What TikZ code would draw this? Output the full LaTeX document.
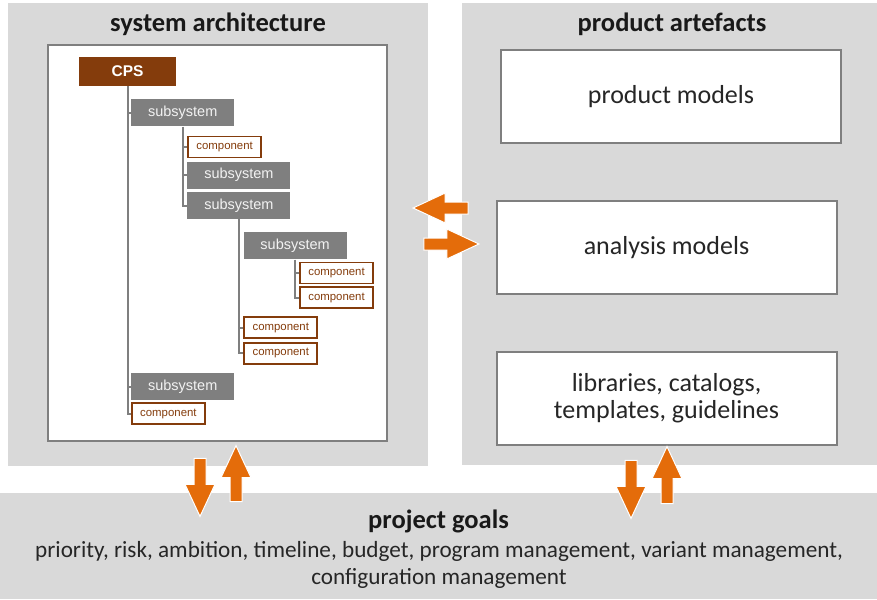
\documentclass[tikz,border=0pt]{standalone}
\usepackage{fontspec}
\setmainfont{Carlito}
\newfontfamily\arialfont{Liberation Sans}
\usetikzlibrary{positioning,shapes.arrows}

\definecolor{panelgrey}{HTML}{D9D9D9}
\definecolor{framegrey}{HTML}{7F7F7F}
\definecolor{cpsbrown}{HTML}{843C0C}
\definecolor{arrorange}{HTML}{E46C0A}

\tikzset{
  heading/.style={font=\fontsize{26.5}{30}\selectfont\bfseries, text=black!90},
  artefact/.style={draw=framegrey, line width=2pt, fill=white, minimum width=340pt, minimum height=93pt,
    align=center, font=\fontsize{26}{27}\selectfont, text=black!85},
  cpsbox/.style={fill=cpsbrown, text=white, minimum width=97pt, minimum height=29pt, inner sep=0pt,
    font=\arialfont\bfseries\fontsize{15.5}{16}\selectfont},
  subbox/.style={fill=framegrey, text=white!95!black, minimum width=103pt, minimum height=27pt, inner sep=0pt,
    font=\arialfont\fontsize{14.5}{15}\selectfont},
  compbox/.style={draw=cpsbrown, line width=1.8pt, fill=white, text=cpsbrown, minimum width=73pt,
    minimum height=21pt, inner sep=0pt, font=\arialfont\fontsize{11.4}{12}\selectfont},
  tree/.style={draw=framegrey, line width=2pt},
  blockarrow/.style={single arrow, fill=arrorange, draw=white, line width=1pt, inner sep=5.5pt,
    minimum height=55pt, single arrow head extend=9pt, single arrow tip angle=50},
}

\begin{document}
\begin{tikzpicture}[x=1pt,y=-1pt]
	\useasboundingbox (0,0) rectangle (877,599);
	% grey panels
	\fill[panelgrey] (8,3) rectangle (428,466);
	\fill[panelgrey] (462,3) rectangle (877,465);
	\fill[panelgrey] (0,493) rectangle (877,599);

	% system architecture
	\node[heading] (archtitle) at (218,24) {system architecture};
	\node[draw=framegrey, line width=2pt, fill=white, minimum width=339pt, minimum height=396pt] (archframe) at (217.5,243) {};
	\node[cpsbox] (cps) at (127.5,71.5) {CPS};
	\node[subbox, below right=13pt and 3.5pt of cps.south] (sub1) {subsystem};
	\node[compbox, below right=9pt and 4.5pt of sub1.south] (comp1) {component};
	\node[subbox, below right=3pt and 0pt of comp1.south west] (sub2) {subsystem};
	\node[subbox, below right=3pt and 0pt of sub2.south west] (sub3) {subsystem};
	\node[subbox, below right=13pt and 4.5pt of sub3.south] (sub4) {subsystem};
	\node[compbox, below right=2pt and 4pt of sub4.south] (comp2) {component};
	\node[compbox, below right=2pt and 0pt of comp2.south west] (comp3) {component};
	\node[compbox, anchor=north west, yshift=-7pt] (comp4) at (comp3.south -| sub4.west) {component};
	\node[compbox, below right=3pt and 0pt of comp4.south west] (comp5) {component};
	\node[subbox, anchor=north west, yshift=-8pt] (sub5) at (comp5.south -| sub1.west) {subsystem};
	\node[compbox, below right=2pt and 0pt of sub5.south west] (comp6) {component};

	\draw[tree] (cps.south) -- (cps.south |- comp6.west) -- (comp6.west);
	\draw[tree] (cps.south |- sub1.west) -- (sub1.west);
	\draw[tree] (cps.south |- sub5.west) -- (sub5.west);
	\draw[tree] (sub1.south) -- (sub1.south |- sub3.west) -- (sub3.west);
	\draw[tree] (sub1.south |- comp1.west) -- (comp1.west);
	\draw[tree] (sub1.south |- sub2.west) -- (sub2.west);
	\draw[tree] (sub3.south) -- (sub3.south |- comp5.west) -- (comp5.west);
	\draw[tree] (sub3.south |- comp4.west) -- (comp4.west);
	\draw[tree] (sub4.south) -- (sub4.south |- comp3.west) -- (comp3.west);
	\draw[tree] (sub4.south |- comp2.west) -- (comp2.west);

	% product artefacts
	\node[heading] (arttitle) at (672,24) {product artefacts};
	\node[artefact] (prodmod) at (671,96.5) {product models};
	\node[artefact, below=56pt of prodmod, xshift=-4.5pt] (anamod) {analysis models};
	\node[artefact, below=56pt of anamod] (libs) {libraries, catalogs,\\ templates, guidelines};

	% project goals
	\node[heading] (goals) at (438.5,521) {project goals};
	\node[align=center, font=\fontsize{23.2}{27}\selectfont, text=black!85] (goaltext) at (439,565)
		{priority, risk, ambition, timeline, budget, program management, variant management,\\ configuration management};

	% exchange arrows
	\node[blockarrow, shape border rotate=180] (toarch) at (447,208) {};
	\node[blockarrow] (toart) at (445,244) {};
	\node[blockarrow, shape border rotate=270, minimum height=58pt] (archdown) at (200,481) {};
	\node[blockarrow, shape border rotate=90, minimum height=56pt] (archup) at (236,480) {};
	\node[blockarrow, shape border rotate=270, minimum height=58pt] (artdown) at (631,483) {};
	\node[blockarrow, shape border rotate=90, minimum height=57pt] (artup) at (667,481.5) {};
\end{tikzpicture}
\end{document}
